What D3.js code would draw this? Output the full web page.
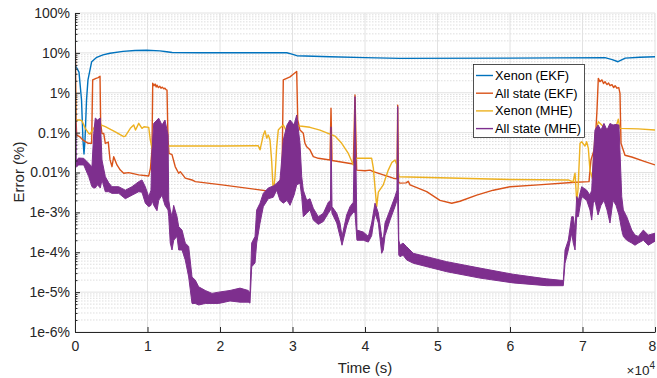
<!DOCTYPE html>
<html><head><meta charset="utf-8">
<script src="https://cdn.jsdelivr.net/npm/d3@7"></script>
<style>body{margin:0;background:#fff}svg{display:block}text{font-family:"Liberation Sans",Arial,Helvetica,sans-serif}</style>
</head><body><svg id="c" width="657" height="378"></svg>
<script>
// ---- data (time in s, error in %) ----
const xTicks = [0,10000,20000,30000,40000,50000,60000,70000,80000];
const xTickLabels = ["0","1","2","3","4","5","6","7","8"];
const yTicks = [1e-6,1e-5,1e-4,1e-3,1e-2,1e-1,1,10,100];
const yTickLabels = ["1e-6%","1e-5%","1e-4%","1e-3%","0.01%","0.1%","1%","10%","100%"];
const seriesNames = ["Xenon (EKF)","All state (EKF)","Xenon (MHE)","All state (MHE)"];
const seriesColors = ["#0072BD","#D95319","#EDB120","#7E2F8E"];

const xenonEKF = [[0,5.0],[550,3.3],[900,0.66],[1100,0.065],[1240,0.029],[1380,0.065],[1590,0.66],[1790,2.1],[2300,6.0],[3000,7.75],[3860,8.9],[4830,9.8],[6620,10.9],[8280,11.5],[9890,11.6],[11700,11.2],[12650,10.7],[13400,10.2],[17240,10.1],[29200,10.1],[29800,9.4],[30600,8.5],[35200,8.0],[40000,7.6],[44800,7.3],[60000,7.4],[73100,7.6],[74100,6.8],[74900,6.0],[75900,7.4],[77900,7.8],[80000,8.0]];

const allStateEKF = [[0,65],[70,6.6],[140,0.21],[230,0.087],[690,0.078],[1100,0.065],[1830,0.054],[2300,0.054],[2390,0.66],[2440,2.1],[2900,2.3],[3200,2.4],[3450,2.6],[3540,0.17],[3720,0.095],[3960,0.096],[4180,0.054],[4590,0.058],[4830,0.021],[5100,0.014],[5340,0.025],[5790,0.0155],[6250,0.0115],[6720,0.0096],[7410,0.0099],[8790,0.0087],[10170,0.0082],[10410,0.0129],[10620,0.037],[10720,1.73],[10900,1.5],[11050,1.65],[11200,1.4],[11310,1.55],[11500,1.35],[11700,1.45],[11860,1.3],[12050,1.38],[12250,1.25],[12410,1.3],[12550,1.2],[12690,1.17],[12830,0.065],[12970,0.030],[13380,0.028],[13830,0.0139],[14300,0.0096],[14520,0.0105],[15210,0.0072],[16140,0.0065],[16590,0.0059],[20280,0.0049],[27350,0.0033],[28000,0.0041],[28550,0.0087],[28730,2.1],[29200,2.3],[29660,2.5],[30100,2.9],[30580,3.4],[30720,0.21],[31030,0.116],[31490,0.096],[31720,0.054],[31960,0.044],[32410,0.037],[32870,0.025],[33560,0.0227],[35170,0.0206],[35310,0.41],[35450,0.020],[38390,0.0163],[38620,0.88],[38850,0.0115],[40000,0.0111],[40690,0.0115],[41150,0.0105],[43900,0.0072],[44410,0.0069],[44510,0.49],[44620,0.0058],[44830,0.0054],[45660,0.0055],[45970,0.006],[46210,0.0049],[48510,0.0033],[50340,0.0020],[51960,0.00169],[53100,0.0019],[55410,0.0027],[57700,0.0036],[60000,0.0044],[63900,0.0049],[68500,0.0056],[70900,0.0059],[71170,0.0206],[71720,0.044],[72000,0.37],[72180,2.3],[72400,1.9],[72690,2.1],[72900,1.7],[73100,1.9],[73380,1.6],[73600,1.75],[73800,1.5],[74070,1.6],[74300,1.35],[74500,1.5],[74760,1.3],[75000,1.35],[75170,0.97],[75310,0.054],[75860,0.027],[76790,0.0245],[78620,0.0188],[80000,0.0155]];

const xenonMHE = [[0,19],[70,0.66],[140,0.185],[280,0.207],[730,0.207],[970,0.196],[1420,0.128],[1890,0.096],[2070,0.092],[2340,0.11],[3030,0.171],[4180,0.141],[5560,0.105],[6720,0.079],[6940,0.082],[7630,0.128],[8100,0.155],[8350,0.116],[8790,0.171],[9240,0.128],[9520,0.14],[10170,0.135],[10390,0.065],[10620,0.041],[11450,0.037],[12140,0.0155],[12550,0.0049],[12830,0.046],[20280,0.046],[25280,0.047],[25520,0.037],[25970,0.087],[26210,0.111],[26440,0.073],[26660,0.087],[26900,0.065],[27130,0.019],[27350,0.0030],[27590,0.0078],[27820,0.044],[28040,0.116],[28280,0.13],[28730,0.155],[29100,0.116],[29660,0.13],[30210,0.16],[31030,0.147],[32410,0.136],[33790,0.116],[35170,0.092],[35860,0.082],[36790,0.054],[37700,0.030],[38390,0.0155],[38850,0.0227],[40920,0.0227],[41150,0.0129],[41610,0.00139],[41840,0.0032],[42520,0.0049],[43210,0.0115],[43720,0.018],[44140,0.0206],[44410,0.0155],[44690,0.0078],[53100,0.0072],[60000,0.0067],[68040,0.0065],[68690,0.0058],[68970,0.0096],[69200,0.0019],[69380,0.0037],[69660,0.054],[69890,0.059],[70340,0.046],[70570,0.059],[70800,0.041],[71030,0.0115],[71350,0.0073],[71520,0.0206],[71720,0.087],[72180,0.188],[72650,0.155],[73340,0.116],[73790,0.137],[74720,0.16],[74940,0.216],[75170,0.128],[77700,0.124],[80000,0.116]];

// All state (MHE): [time, lower edge, upper edge] of the oscillating trace
const allStateMHE = [[0,17,17],[150,0.014,0.021],[230,0.0139,0.0206],[510,0.0155,0.023],[1200,0.0155,0.0227],[1890,0.0079,0.017],[2340,0.0044,0.0139],[2580,0.0041,0.096],[2800,0.0041,0.232],[3100,0.0049,0.207],[3490,0.0041,0.232],[3720,0.0065,0.0206],[4180,0.0033,0.0079],[4650,0.0033,0.0055],[5100,0.003,0.0044],[6030,0.003,0.0044],[6940,0.0022,0.0036],[7860,0.0027,0.0044],[8790,0.0033,0.0059],[9240,0.0032,0.0065],[9700,0.0017,0.0044],[10170,0.00139,0.00247],[10480,0.0015,0.0036],[10620,0.002,0.037],[10860,0.0015,0.171],[11310,0.0011,0.207],[11540,0.002,0.23],[12000,0.0027,0.155],[12410,0.0015,0.207],[12830,0.00115,0.087],[12930,0.00078,0.002],[13140,0.00017,0.00115],[13380,0.000114,0.00078],[13610,0.0002,0.0015],[14070,0.00025,0.00078],[14300,0.000114,0.00044],[14760,0.000114,0.00036],[15210,0.000064,0.00017],[15680,0.000024,0.00014],[16140,0.0000052,0.000024],[16590,0.0000052,0.00002],[17060,0.00000475,0.0000136],[17970,0.0000052,0.000011],[18900,0.0000052,0.0000093],[19820,0.0000052,0.00001],[21380,0.000006,0.000011],[22760,0.0000056,0.0000126],[23900,0.0000056,0.000011],[24140,0.0000053,0.0000095],[24370,0.000043,0.00017],[24830,0.000054,0.00025],[25060,0.00017,0.00115],[25520,0.00054,0.0017],[25970,0.00139,0.003],[26660,0.0022,0.0041],[27350,0.0024,0.0046],[27820,0.0036,0.0054],[28280,0.002,0.0065],[28730,0.0017,0.065],[29240,0.002,0.155],[29660,0.0015,0.207],[30210,0.0027,0.155],[30580,0.0049,0.277],[31030,0.0054,0.055],[31270,0.0025,0.0079],[31490,0.00078,0.0036],[31960,0.00095,0.002],[32410,0.00115,0.0022],[32870,0.00064,0.00127],[33560,0.0005,0.00078],[34250,0.00059,0.00095],[34940,0.00095,0.0018],[35240,0.00115,0.002],[35310,0.002,0.14],[35450,0.00095,0.0014],[36100,0.00054,0.00095],[36550,0.00025,0.00054],[36830,0.00015,0.00025],[37470,0.00046,0.00086],[37930,0.00078,0.00139],[38390,0.001,0.0018],[38620,0.001,0.8],[38890,0.0002,0.00036],[39770,0.0002,0.00032],[40460,0.00018,0.00025],[40920,0.00026,0.00054],[41380,0.00095,0.0017],[41840,0.00054,0.00097],[42300,0.000094,0.00025],[42520,0.000114,0.0002],[42760,0.00026,0.00054],[43450,0.00064,0.00115],[44140,0.0014,0.0025],[44410,0.002,0.0036],[44510,0.002,0.45],[44660,0.000085,0.0002],[44830,0.000077,0.00015],[45240,0.000085,0.00017],[45750,0.000064,0.000138],[46660,0.000053,0.000094],[51270,0.0000325,0.000058],[55860,0.0000225,0.00004],[60460,0.000017,0.000028],[65060,0.0000145,0.0000215],[67350,0.0000145,0.0000195],[67590,0.000053,0.000114],[68040,0.000114,0.0002],[68510,0.0003,0.00078],[68730,0.00017,0.00078],[68970,0.000114,0.00036],[69200,0.00078,0.0025],[69420,0.00078,0.002],[69890,0.0025,0.0044],[70580,0.002,0.0036],[71030,0.00115,0.0027],[71270,0.00064,0.0036],[71490,0.0017,0.024],[71720,0.002,0.116],[72140,0.00086,0.155],[72550,0.0015,0.116],[72960,0.002,0.17],[73380,0.00115,0.116],[73790,0.00054,0.17],[74210,0.002,0.155],[74620,0.0015,0.16],[75030,0.00086,0.155],[75410,0.00036,0.0025],[75630,0.00025,0.00115],[76100,0.0002,0.00078],[76790,0.00017,0.00036],[77240,0.00015,0.00027],[77700,0.00017,0.00025],[78390,0.0002,0.00036],[79080,0.00015,0.00027],[80000,0.00019,0.0003]];

// ---- layout ----
const L = 75, R = 655, T = 13, B = 332;
const svg = d3.select("#c");
const x = d3.scaleLinear().domain([0, 80000]).range([L, R]);
const y = d3.scaleLog().domain([1e-6, 100]).range([B, T]);

// minor y values (2..9 per decade)
const yMinor = [];
for (let k = -6; k < 2; k++) for (let m = 2; m <= 9; m++) yMinor.push(m * Math.pow(10, k));

// grid
const grid = svg.append("g");
grid.selectAll("line.mn").data(yMinor).join("line")
  .attr("x1", L).attr("x2", R).attr("y1", d => y(d)).attr("y2", d => y(d))
  .attr("stroke", "#d6d6d6").attr("stroke-width", 0.8).attr("stroke-dasharray", "1.5,1.5");
grid.selectAll("line.mjy").data(yTicks).join("line")
  .attr("x1", L).attr("x2", R).attr("y1", d => y(d)).attr("y2", d => y(d))
  .attr("stroke", "#e2e2e2").attr("stroke-width", 1);
grid.selectAll("line.mjx").data(xTicks).join("line")
  .attr("y1", T).attr("y2", B).attr("x1", d => x(d)).attr("x2", d => x(d))
  .attr("stroke", "#e2e2e2").attr("stroke-width", 1);

// clip
svg.append("clipPath").attr("id", "clip").append("rect")
  .attr("x", L).attr("y", T).attr("width", R - L).attr("height", B - T);
const plot = svg.append("g").attr("clip-path", "url(#clip)");

const line = d3.line().x(d => x(d[0])).y(d => y(d[1]));
[xenonEKF, allStateEKF, xenonMHE].forEach((s, i) => {
  plot.append("path").datum(s).attr("d", line).attr("fill", "none")
    .attr("stroke", seriesColors[i]).attr("stroke-width", 1.4).attr("stroke-linejoin", "round");
});
const area = d3.area().x(d => x(d[0])).y0(d => y(d[1])).y1(d => y(d[2]));
plot.append("path").datum(allStateMHE).attr("d", area)
  .attr("fill", seriesColors[3]).attr("stroke", seriesColors[3]).attr("stroke-width", 1.0)
  .attr("stroke-linejoin", "round");

// axes
const axC = "#262626";
const yAx = svg.append("g").attr("transform", `translate(${L},0)`)
  .call(d3.axisLeft(y).tickValues(yTicks).tickFormat((d, i) => yTickLabels[i])
    .tickSizeInner(-5).tickSizeOuter(0).tickPadding(5));
const yMin = svg.append("g").attr("transform", `translate(${L},0)`)
  .call(d3.axisLeft(y).tickValues(yMinor).tickFormat("").tickSizeInner(-2.5).tickSizeOuter(0));
yMin.select(".domain").remove();
const xAx = svg.append("g").attr("transform", `translate(0,${B})`)
  .call(d3.axisBottom(x).tickValues(xTicks).tickFormat((d, i) => xTickLabels[i])
    .tickSizeInner(-5).tickSizeOuter(0).tickPadding(9));
[yAx, yMin, xAx].forEach(g => {
  g.selectAll("path,line").attr("stroke", axC);
  g.selectAll("text").attr("fill", axC).attr("font-size", 14)
    .attr("font-family", '"Liberation Sans",Arial,sans-serif');
});
// keep the last x tick label inside the picture
xAx.selectAll(".tick text").filter((d, i) => i === xTicks.length - 1).attr("text-anchor", "end").attr("dx", "0.05em");

// labels
svg.append("text").attr("x", (L + R) / 2).attr("y", 373).attr("text-anchor", "middle")
  .attr("font-size", 15).attr("fill", axC).text("Time (s)");
svg.append("text").attr("transform", "translate(24,172) rotate(-90)").attr("text-anchor", "middle")
  .attr("font-size", 15).attr("fill", axC).text("Error (%)");
const ex = svg.append("text").attr("x", 655).attr("y", 375).attr("text-anchor", "end")
  .attr("font-size", 13.5).attr("fill", axC);
ex.append("tspan").text("\u00d710");
ex.append("tspan").attr("dy", -6).attr("font-size", 10).text("4");

// legend
const lg = svg.append("g");
lg.append("rect").attr("x", 473.5).attr("y", 64.5).attr("width", 111).attr("height", 73)
  .attr("fill", "#fff").attr("stroke", axC).attr("stroke-width", 0.8);
seriesNames.forEach((n, i) => {
  const cy = 75.5 + i * 17.7;
  lg.append("line").attr("x1", 476).attr("x2", 493).attr("y1", cy).attr("y2", cy)
    .attr("stroke", seriesColors[i]).attr("stroke-width", 1.4);
  lg.append("text").attr("x", 495).attr("y", cy).attr("dy", "0.35em")
    .attr("font-size", 12.8).attr("fill", "#000").text(n);
});
</script></body></html>
